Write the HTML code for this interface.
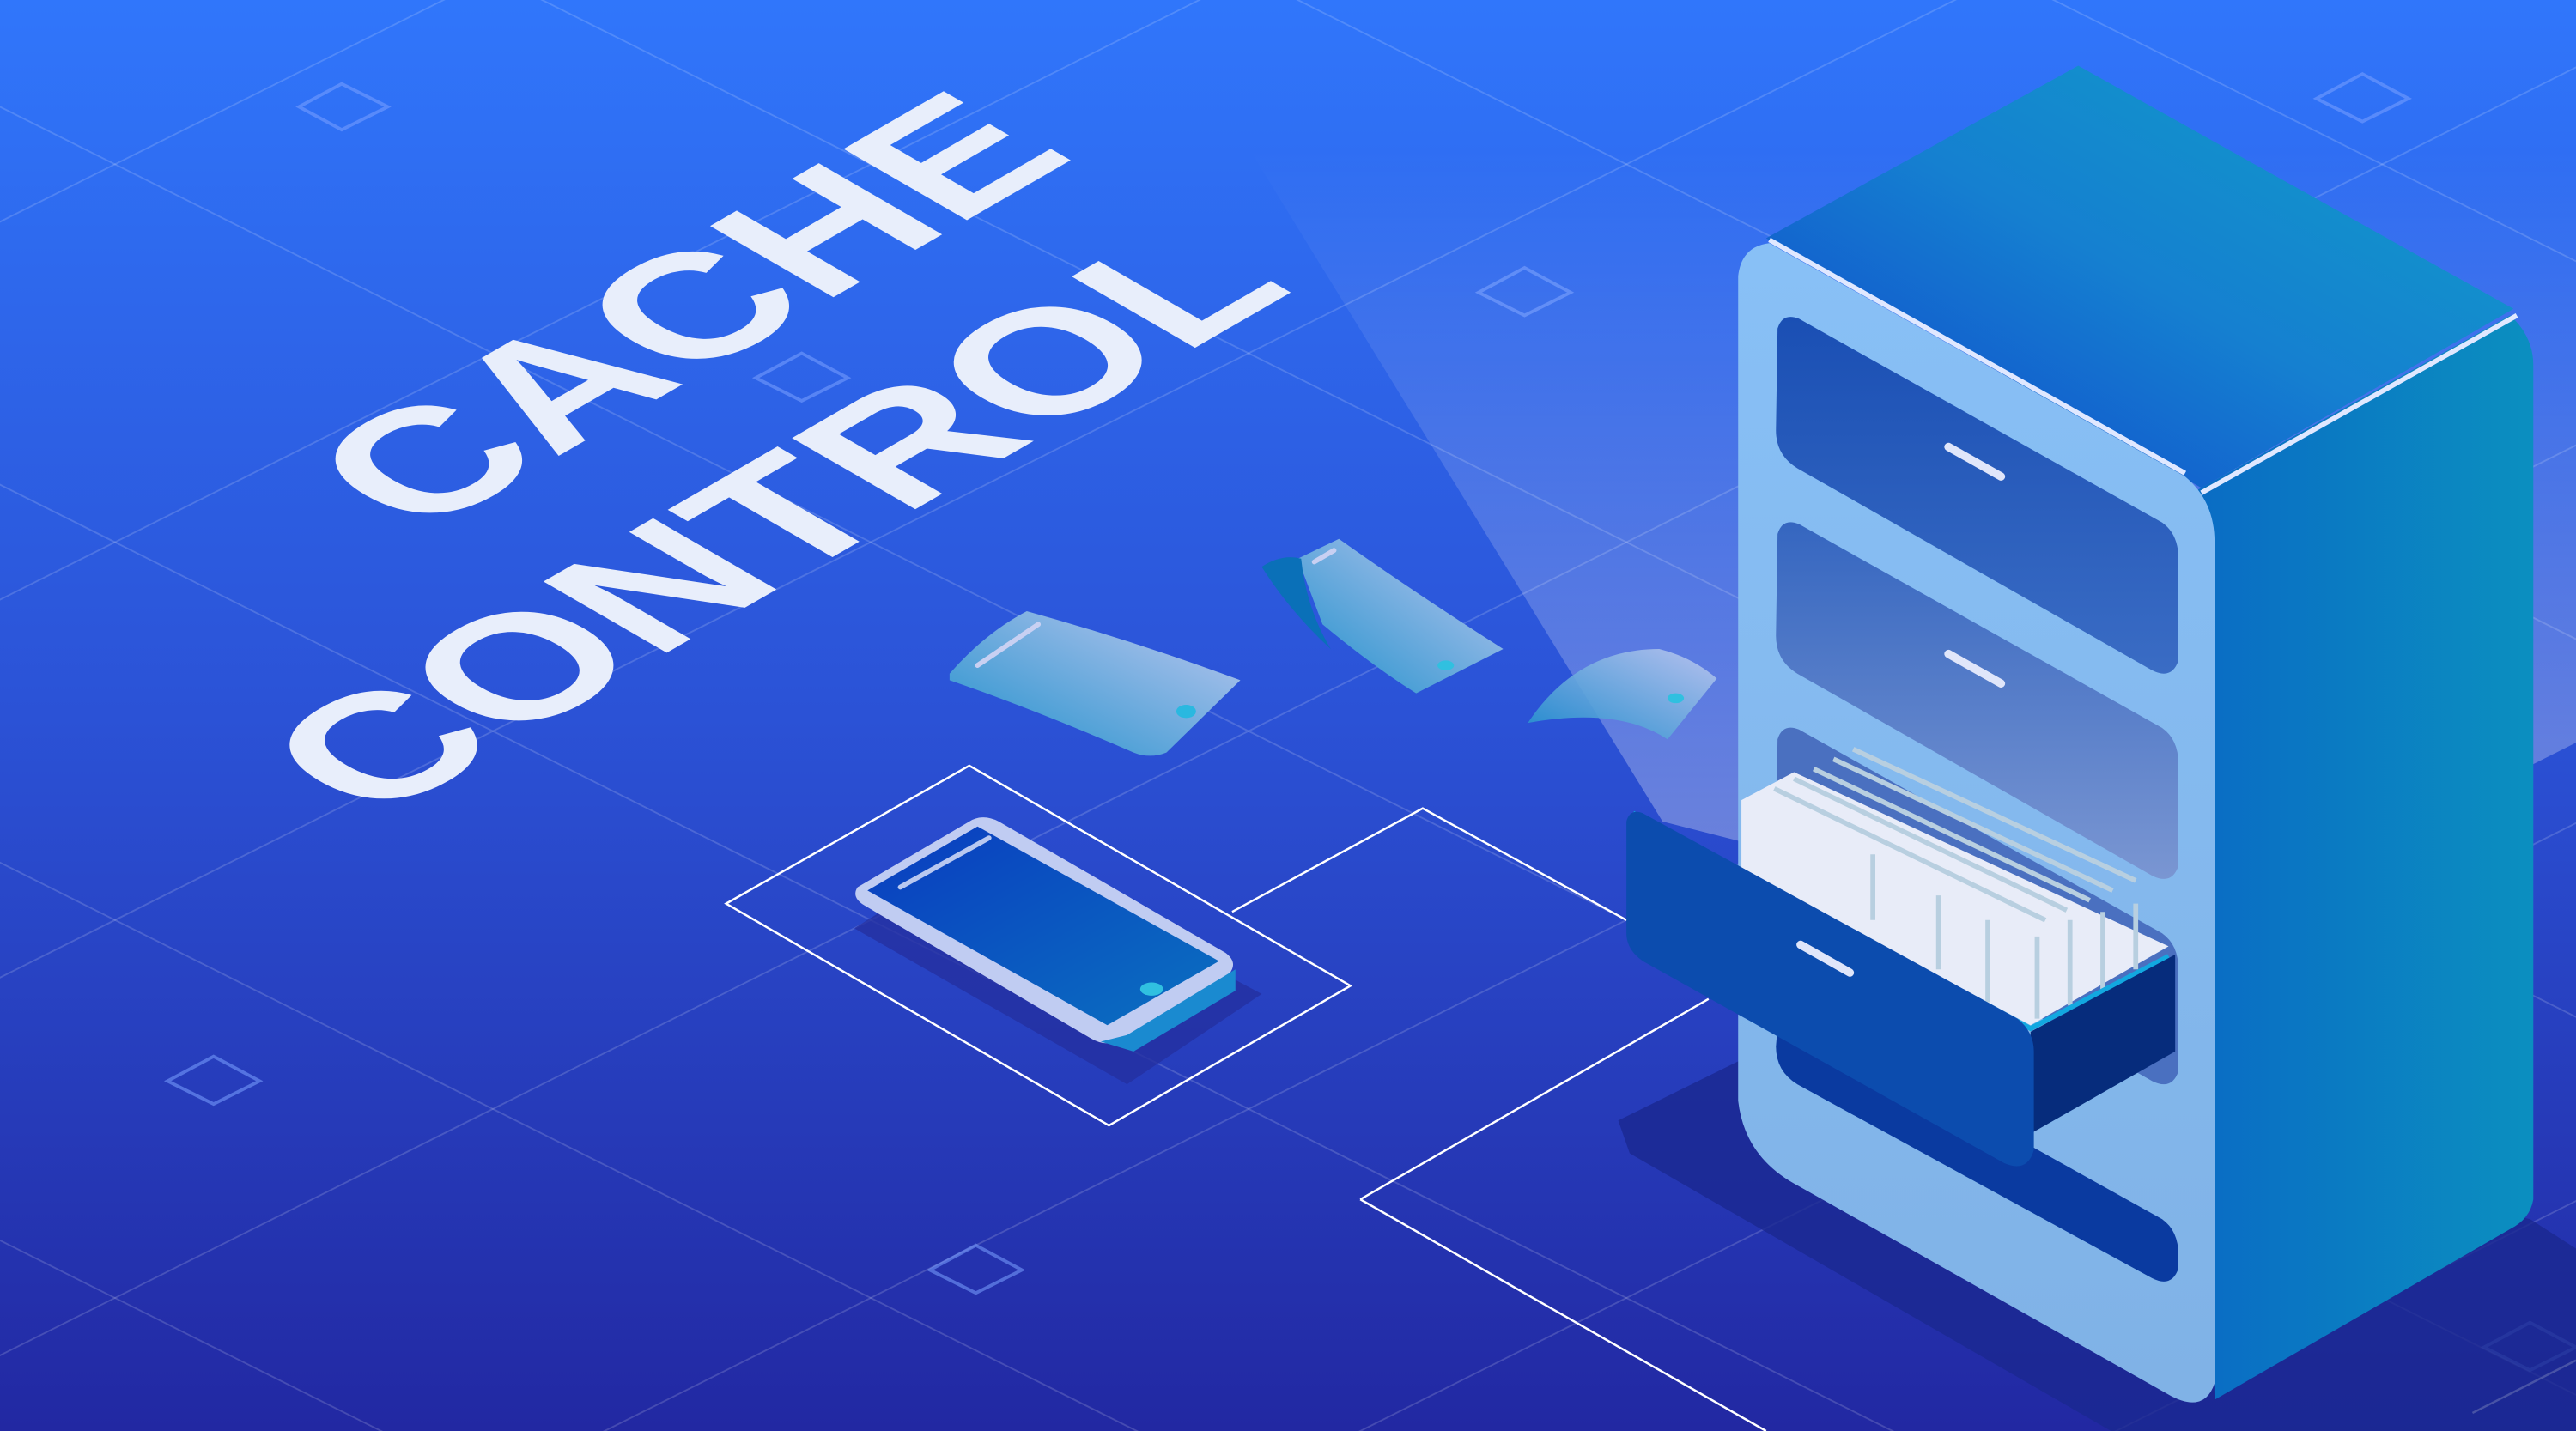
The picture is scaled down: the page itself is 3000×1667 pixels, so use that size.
<!DOCTYPE html>
<html><head><meta charset="utf-8"><style>html,body{margin:0;padding:0;background:#2a3cc0;width:3000px;height:1667px;overflow:hidden}svg{display:block}</style></head>
<body>
<svg width="3000" height="1667" viewBox="0 0 1568 871" preserveAspectRatio="none" xmlns="http://www.w3.org/2000/svg">
<defs>
<linearGradient id="bg" x1="0" y1="0" x2="0" y2="1"><stop offset="0" stop-color="#3076fb"/><stop offset="0.5" stop-color="#2b52d6"/><stop offset="1" stop-color="#2228a2"/></linearGradient>
<linearGradient id="top" x1="0" y1="1" x2="1" y2="0"><stop offset="0" stop-color="#1040cc"/><stop offset="0.5" stop-color="#1580d0"/><stop offset="1" stop-color="#10a0c8"/></linearGradient>
<linearGradient id="front" x1="0" y1="0" x2="0" y2="1"><stop offset="0" stop-color="#88c0f6"/><stop offset="1" stop-color="#80b2e6"/></linearGradient>
<linearGradient id="side" x1="0" y1="0" x2="1" y2="0"><stop offset="0" stop-color="#0a6cc4"/><stop offset="1" stop-color="#0b8fc0"/></linearGradient>
<linearGradient id="d1" x1="0" y1="0" x2="0" y2="1"><stop offset="0" stop-color="#1a4fb4"/><stop offset="1" stop-color="#3a6cc4"/></linearGradient>
<linearGradient id="d2" x1="0" y1="0" x2="0" y2="1"><stop offset="0" stop-color="#3566c0"/><stop offset="1" stop-color="#7a96d2"/></linearGradient>
<linearGradient id="beam" x1="0" y1="0" x2="0" y2="1"><stop offset="0" stop-color="#fff" stop-opacity="0"/><stop offset="1" stop-color="#fff" stop-opacity="0.35"/></linearGradient>
<linearGradient id="card" x1="0" y1="1" x2="1" y2="0"><stop offset="0" stop-color="#1e90cc"/><stop offset="1" stop-color="#c0c8f0"/></linearGradient>
<linearGradient id="screen" x1="0" y1="0" x2="1" y2="1"><stop offset="0" stop-color="#0a3cc0"/><stop offset="1" stop-color="#0a70c0"/></linearGradient>
</defs>
<rect width="1568" height="871" fill="url(#bg)"/>
<g stroke="#ffffff" stroke-opacity="0.16" stroke-width="1">
<line x1="-200" y1="-35" x2="1800" y2="965"/><line x1="-200" y1="195" x2="1800" y2="1195"/><line x1="-200" y1="425" x2="1800" y2="1425"/><line x1="-200" y1="655" x2="1800" y2="1655"/><line x1="-200" y1="-265" x2="1800" y2="735"/><line x1="-200" y1="-495" x2="1800" y2="505"/><line x1="-200" y1="-725" x2="1800" y2="275"/><line x1="-200" y1="-955" x2="1800" y2="45"/>
<line x1="-200" y1="235" x2="1800" y2="-765"/><line x1="-200" y1="465" x2="1800" y2="-535"/><line x1="-200" y1="695" x2="1800" y2="-305"/><line x1="-200" y1="925" x2="1800" y2="-75"/><line x1="-200" y1="1155" x2="1800" y2="155"/><line x1="-200" y1="1385" x2="1800" y2="385"/><line x1="-200" y1="1615" x2="1800" y2="615"/><line x1="-200" y1="1845" x2="1800" y2="845"/>
</g>
<g fill="none" stroke="#7aa0ff" stroke-opacity="0.55" stroke-width="2">
<path d="M182,65 L208,51 L236,65 L208,79Z"/><path d="M1410,60 L1438,45 L1466,60 L1438,74Z"/><path d="M900,178 L928,163 L956,178 L928,192Z"/><path d="M460,230 L488,215 L516,230 L488,244Z"/><path d="M102,658 L130,643 L158,658 L130,672Z"/><path d="M566,773 L594,758 L622,773 L594,787Z"/><path d="M1512,820 L1540,805 L1568,820 L1540,834Z"/>
</g>
<g fill="none" stroke="#fff" stroke-width="1.3">
<path d="M442,550 L590,466 L822,600 L675,685Z"/>
<path d="M750,555 L866,492 L990,560"/>
<path d="M828,730 L1040,608"/>
<path d="M828,730 L1075,871"/>
<path d="M1505,860 L1568,828"/>
</g>
<g fill="#e8eefb" font-family="Liberation Sans, sans-serif" font-weight="bold" font-size="126">
<text transform="matrix(0.866,-0.5,0.866,0.5,256,326)" x="0" y="0" textLength="462" lengthAdjust="spacingAndGlyphs">CACHE</text>
<text transform="matrix(0.866,-0.5,0.866,0.5,228,500)" x="0" y="0" textLength="648" lengthAdjust="spacingAndGlyphs">CONTROL</text>
</g>
<path d="M985,682 L1060,645 L1540,742 L1568,760 L1568,871 L1285,871 L992,702Z" fill="#1a2890" opacity="0.8"/>
<path d="M760,90 L1568,90 L1568,452 L1318,578 L1012,500Z" fill="url(#beam)"/>
<path d="M1075,145 L1265,40 L1530,188 L1340,297Z" fill="url(#top)"/>
<path d="M1338,298 L1528,192 Q1542,205 1542,222 L1542,730 Q1540,742 1528,748 L1348,852Z" fill="url(#side)"/>
<path d="M1058,168 Q1060,150 1077,148 L1330,290 Q1348,305 1348,330 L1348,842 Q1342,860 1322,850 L1095,722 Q1062,705 1058,670Z" fill="url(#front)"/>
<path d="M1077,146 L1330,288 M1340,300 L1532,192" stroke="#e0e8ff" stroke-width="3" fill="none"/>
<path d="M1082,200 Q1085,190 1095,194 L1316,318 Q1326,325 1326,340 L1326,402 Q1322,414 1310,408 L1094,285 Q1081,277 1081,262Z" fill="url(#d1)"/>
<path d="M1082,325 Q1085,315 1095,319 L1316,443 Q1326,450 1326,465 L1326,527 Q1322,539 1310,533 L1094,410 Q1081,402 1081,387Z" fill="url(#d2)"/>
<path d="M1082,450 Q1085,440 1095,444 L1316,568 Q1326,575 1326,590 L1326,652 Q1322,664 1310,658 L1094,535 Q1081,527 1081,512Z" fill="#4a70c0"/>
<path d="M1082,625 Q1085,615 1095,619 L1316,742 Q1326,749 1326,764 L1326,772 Q1322,784 1310,778 L1094,660 Q1081,652 1081,637Z" fill="#0a3aa0"/>
<path d="M1186,272 L1218,290" stroke="#e0e6fa" stroke-width="5" stroke-linecap="round"/>
<path d="M1186,398 L1218,416" stroke="#e0e6fa" stroke-width="5" stroke-linecap="round"/>
<path d="M1060,487 L1092,470 L1320,576 L1236,624 L1060,530Z" fill="#e8ecf8"/>
<g stroke="#b8cfe0" stroke-width="3">
<path d="M1080,480 L1245,560 M1092,474 L1258,554 M1104,468 L1272,548 M1116,462 L1286,542 M1128,456 L1300,536"/>
<path d="M1140,520 L1140,560 M1180,545 L1180,590 M1210,560 L1210,610 M1240,570 L1240,620 M1260,560 L1260,612 M1280,555 L1280,605 M1300,550 L1300,590"/>
</g>
<path d="M994,495 L1236,626 L1320,582" stroke="#12a8e0" stroke-width="3" fill="none"/>
<path d="M1236,628 L1324,581 L1324,640 L1236,690Z" fill="#062c7c"/>
<path d="M990,500 Q992,492 1000,495 L1228,620 Q1238,628 1238,640 L1238,700 Q1234,714 1220,708 L1000,585 Q990,578 990,568Z" fill="#0c4cae"/>
<path d="M1096,575 L1126,592" stroke="#e0e6fa" stroke-width="5" stroke-linecap="round"/>
<path d="M520,565 L600,515 L768,605 L686,660Z" fill="#2430a0" opacity="0.8"/>
<path d="M522,540 Q518,546 526,551 L664,632 Q674,638 684,632 L748,593 Q754,586 746,580 L608,500 Q598,495 590,500Z" fill="#c0ccf2"/>
<path d="M528,542 L595,503 L742,585 L674,624Z" fill="url(#screen)"/>
<path d="M548,540 L602,510" stroke="#b8c8f0" stroke-width="3" stroke-linecap="round"/>
<ellipse cx="701" cy="602" rx="7" ry="4" fill="#30c0e0"/>
<path d="M670,634 L690,640 L752,603 L752,590 L686,630Z" fill="#1a8ad0"/>
<path d="M578,410 Q600,385 625,372 Q690,390 755,414 L710,458 Q700,462 690,458 Q630,432 578,414Z" fill="url(#card)"/>
<path d="M595,405 L632,380" stroke="#c8d0f2" stroke-width="3" stroke-linecap="round"/>
<ellipse cx="722" cy="433" rx="6" ry="4" fill="#2ab8e0"/>
<path d="M790,340 L815,328 Q860,360 915,395 L862,422 Q835,405 805,380Z" fill="url(#card)"/>
<path d="M768,345 Q780,337 792,340 Q795,370 810,395 Q785,372 768,345Z" fill="#0a70b8"/>
<path d="M800,342 L812,335" stroke="#c8d0f2" stroke-width="3" stroke-linecap="round"/>
<ellipse cx="880" cy="405" rx="5" ry="3" fill="#30c0e0"/>
<path d="M930,440 Q960,395 1010,395 Q1030,400 1045,413 L1015,450 Q985,430 930,440Z" fill="url(#card)" opacity="0.9"/>
<ellipse cx="1020" cy="425" rx="5" ry="3" fill="#30c0e0"/>
</svg>
</body></html>
